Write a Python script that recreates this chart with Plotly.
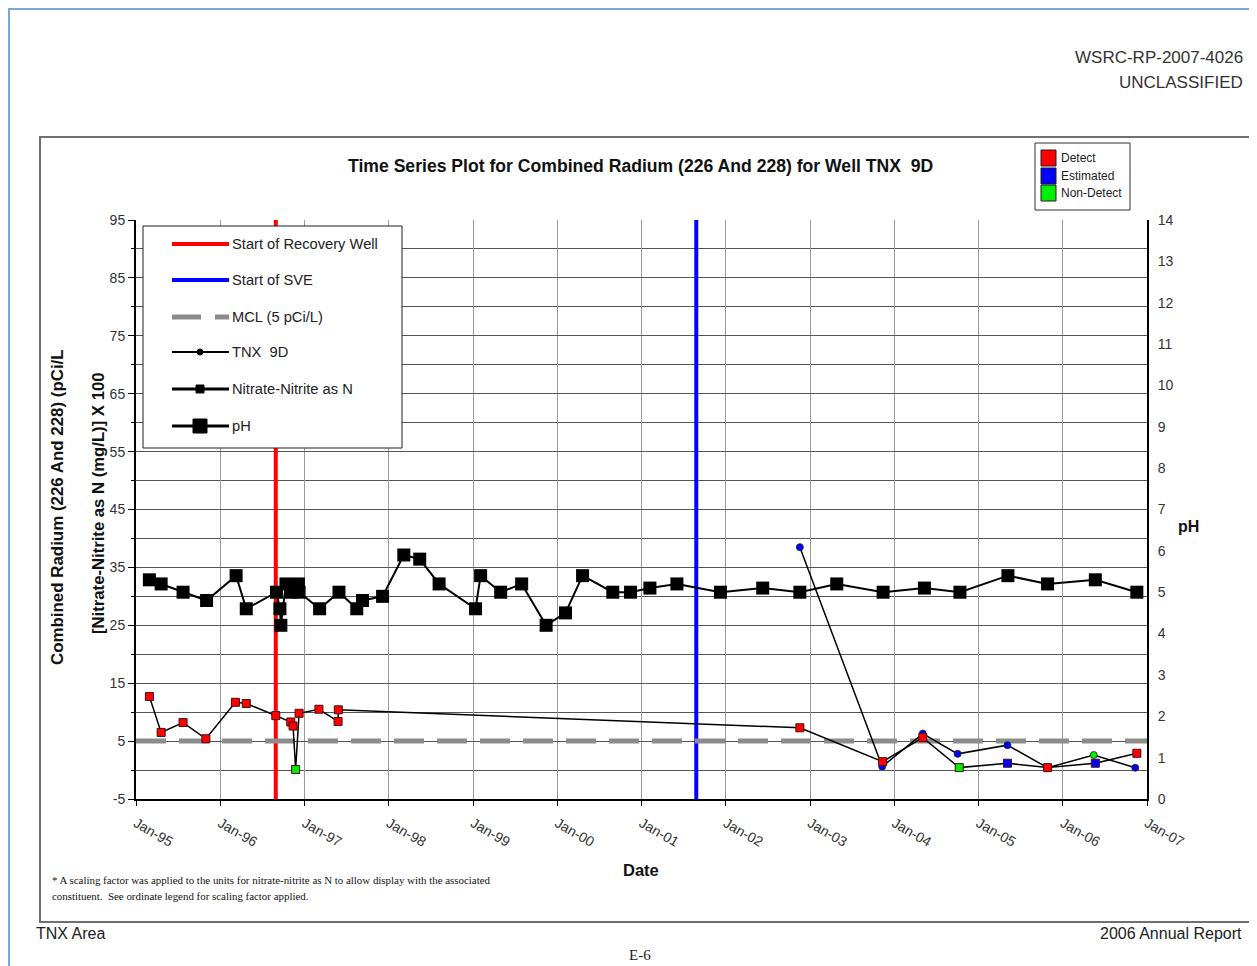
import plotly.graph_objects as go

# ---------------- data ----------------
ph_dates = ["1995-02-28", "1995-04-20", "1995-07-24", "1995-11-03", "1996-03-10", "1996-04-23",
            "1996-09-01", "1996-09-16", "1996-09-20", "1996-10-12", "1996-11-03", "1996-12-05",
            "1996-12-08", "1997-03-07", "1997-05-30", "1997-08-15", "1997-09-09", "1997-12-05",
            "1998-03-07", "1998-05-15", "1998-08-07", "1999-01-12", "1999-02-03", "1999-05-01",
            "1999-07-31", "1999-11-14", "2000-02-06", "2000-04-20", "2000-08-29", "2000-11-14",
            "2001-02-06", "2001-06-03", "2001-12-09", "2002-06-10", "2002-11-18", "2003-04-27",
            "2003-11-14", "2004-05-11", "2004-10-12", "2005-05-08", "2005-10-27", "2006-05-22",
            "2006-11-18"]
ph_values = [5.3, 5.2, 5.0, 4.8, 5.4, 4.6,
             5.0, 4.6, 4.2, 5.2, 5.0, 5.2,
             5.0, 4.6, 5.0, 4.6, 4.8, 4.9,
             5.9, 5.8, 5.2, 4.6, 5.4, 5.0,
             5.2, 4.2, 4.5, 5.4, 5.0, 5.0,
             5.1, 5.2, 5.0, 5.1, 5.0, 5.2,
             5.0, 5.1, 5.0, 5.4, 5.2, 5.3,
             5.0]

nitrate_dates = ["1995-02-28", "1995-04-20", "1995-07-24", "1995-10-31", "1996-03-07", "1996-04-23",
                 "1996-08-29", "1996-11-02", "1996-11-12", "1996-11-23", "1996-12-08", "1997-03-04",
                 "1997-05-26", "1997-05-27", "2002-11-18", "2003-11-12", "2004-05-04", "2004-10-09",
                 "2005-05-06", "2005-10-27", "2006-05-22", "2006-11-18"]
nitrate_x100 = [12.7, 6.5, 8.2, 5.4, 11.7, 11.5,
                9.4, 8.3, 7.6, 0.1, 9.8, 10.5,
                8.4, 10.4, 7.3, 1.45, 5.6, 0.42,
                1.18, 0.42, 1.18, 2.9]
nitrate_flag = ["D", "D", "D", "D", "D", "D",
                "D", "D", "D", "N", "D", "D",
                "D", "D", "D", "D", "D", "N",
                "E", "D", "E", "D"]

radium_dates = ["2002-11-18", "2003-11-10", "2004-05-04", "2004-10-02", "2005-05-06", "2005-10-27",
                "2006-05-15", "2006-11-11"]
radium_values = [38.5, 0.6, 6.3, 2.8, 4.3, 0.4, 2.6, 0.4]
radium_flag = ["E", "E", "E", "E", "E", "E", "N", "E"]

recovery_well_date = "1996-08-29"
sve_date = "2001-08-26"
mcl_value = 5
x_range = ["1995-01-01", "2007-01-01"]
y_range = [-5, 95]
ph_range = [0, 14]
left_tick_values = [-5, 5, 15, 25, 35, 45, 55, 65, 75, 85, 95]
left_tick_labels = ["-5", "5", "15", "25", "35", "45", "55", "65", "75", "85", "95"]

flag_colors = {"D": "#ff0000", "E": "#0000ff", "N": "#00ee00"}

FONT = "Liberation Sans, Arial, sans-serif"
SERIF = "Liberation Serif, Times New Roman, serif"

# page offset of the figure (browser body margin) and plot area in page pixels
OFF = 8
W, H = 1257 - OFF, 966 - OFF
X0, X1, Y0, Y1 = 136, 1147, 220, 799


def px(x):
    return (x - X0) / (X1 - X0)


def py(y):
    return (Y1 - y) / (Y1 - Y0)


fig = go.Figure()

# vertical event lines and MCL
fig.add_trace(go.Scatter(x=[recovery_well_date, recovery_well_date], y=y_range, mode="lines",
                         line=dict(color="#ff0000", width=4), showlegend=False, hoverinfo="skip"))
fig.add_trace(go.Scatter(x=[sve_date, sve_date], y=y_range, mode="lines",
                         line=dict(color="#0000ff", width=4), showlegend=False, hoverinfo="skip"))
fig.add_trace(go.Scatter(x=x_range, y=[mcl_value, mcl_value], mode="lines",
                         line=dict(color="#8c8c8c", width=5, dash="30px,13px"),
                         showlegend=False, hoverinfo="skip"))

# pH on right axis
fig.add_trace(go.Scatter(x=ph_dates, y=ph_values, mode="lines+markers", yaxis="y2",
                         line=dict(color="black", width=2),
                         marker=dict(symbol="square", size=13, color="black"),
                         showlegend=False, name="pH"))

# Radium (TNX 9D)
fig.add_trace(go.Scatter(x=radium_dates, y=radium_values, mode="lines+markers",
                         line=dict(color="black", width=1.5),
                         marker=dict(symbol="circle", size=7,
                                     color=[flag_colors[f] for f in radium_flag],
                                     line=dict(color="#202020", width=0.8)),
                         showlegend=False, name="TNX 9D"))

# Nitrate-Nitrite x100
fig.add_trace(go.Scatter(x=nitrate_dates, y=nitrate_x100, mode="lines+markers",
                         line=dict(color="black", width=1.5),
                         marker=dict(symbol="square", size=8,
                                     color=[flag_colors[f] for f in nitrate_flag],
                                     line=dict(color="#401010", width=1)),
                         showlegend=False, name="Nitrate-Nitrite as N"))

shapes = []
annotations = []

# page border (blue) and chart frame
shapes.append(dict(type="line", xref="paper", yref="paper", x0=px(8), x1=px(1262), y0=py(9), y1=py(9),
                   line=dict(color="#7fa7d6", width=2), layer="below"))
shapes.append(dict(type="line", xref="paper", yref="paper", x0=px(9), x1=px(9), y0=py(8), y1=py(970),
                   line=dict(color="#7fa7d6", width=2), layer="below"))
shapes.append(dict(type="rect", xref="paper", yref="paper", x0=px(40), x1=px(1262), y0=py(137), y1=py(922),
                   line=dict(color="#707070", width=2), layer="below"))

# main legend box
shapes.append(dict(type="rect", xref="paper", yref="paper", x0=px(143), x1=px(402), y0=py(226), y1=py(448),
                   line=dict(color="#202020", width=1), fillcolor="white", layer="above"))
leg_items = [
    ("Start of Recovery Well", 244, dict(color="#ff0000", width=4), None),
    ("Start of SVE", 280, dict(color="#0000ff", width=4), None),
    ("MCL (5 pCi/L)", 317, None, None),
    ("TNX  9D", 352, dict(color="black", width=2), "circle"),
    ("Nitrate-Nitrite as N", 389, dict(color="black", width=3), "small"),
    ("pH", 426, dict(color="black", width=3), "big"),
]
for label, yy, ln, mk in leg_items:
    if ln is not None:
        shapes.append(dict(type="line", xref="paper", yref="paper", x0=px(172), x1=px(229),
                           y0=py(yy), y1=py(yy), line=ln, layer="above"))
    else:
        for a, b in [(172, 201), (215, 229)]:
            shapes.append(dict(type="line", xref="paper", yref="paper", x0=px(a), x1=px(b),
                               y0=py(yy), y1=py(yy), line=dict(color="#8c8c8c", width=5), layer="above"))
    if mk == "circle":
        shapes.append(dict(type="circle", xref="paper", yref="paper", x0=px(197), x1=px(203),
                           y0=py(yy - 3), y1=py(yy + 3), line=dict(color="black", width=1),
                           fillcolor="black", layer="above"))
    elif mk == "small":
        shapes.append(dict(type="rect", xref="paper", yref="paper", x0=px(196), x1=px(204),
                           y0=py(yy - 4), y1=py(yy + 4), line=dict(color="black", width=1),
                           fillcolor="black", layer="above"))
    elif mk == "big":
        shapes.append(dict(type="rect", xref="paper", yref="paper", x0=px(193), x1=px(207),
                           y0=py(yy - 7), y1=py(yy + 7), line=dict(color="black", width=1),
                           fillcolor="black", layer="above"))
    annotations.append(dict(text=label.replace("  ", "\u00a0\u00a0"), xref="paper", yref="paper",
                            x=px(230), y=py(yy), xanchor="left", yanchor="middle", showarrow=False,
                            font=dict(family=FONT, size=14.7, color="#222")))

# flag legend box
shapes.append(dict(type="rect", xref="paper", yref="paper", x0=px(1035), x1=px(1130), y0=py(143), y1=py(210),
                   line=dict(color="#303030", width=1), fillcolor="white", layer="above"))
for (lab, col), yy in zip([("Detect", "#ff0000"), ("Estimated", "#0000ff"), ("Non-Detect", "#00ee00")],
                          [158, 176, 193]):
    shapes.append(dict(type="rect", xref="paper", yref="paper", x0=px(1041), x1=px(1056),
                       y0=py(yy - 8), y1=py(yy + 8), line=dict(color="#202020", width=1),
                       fillcolor=col, layer="above"))
    annotations.append(dict(text=lab, xref="paper", yref="paper", x=px(1059), y=py(yy), xanchor="left",
                            yanchor="middle", showarrow=False, font=dict(family=FONT, size=12, color="#222")))


def txt(text, x, y, size, xanchor="center", bold=False, family=FONT, angle=0, color="#111"):
    if bold:
        text = "<b>" + text + "</b>"
    annotations.append(dict(text=text, xref="paper", yref="paper", x=px(x), y=py(y), xanchor=xanchor,
                            yanchor="middle", showarrow=False, textangle=angle,
                            font=dict(family=family, size=size, color=color)))


txt("Time Series Plot for Combined Radium (226 And 228) for Well TNX\u00a0\u00a09D", 640, 166, 17.6, bold=True)
txt("Combined Radium (226 And 228) (pCi/L", 57, 507, 16.9, bold=True, angle=-90)
txt("[Nitrate-Nitrite as N (mg/L)] X 100", 98, 504, 16.7, bold=True, angle=-90)
txt("pH", 1188, 526, 16, bold=True)
txt("Date", 641, 870, 16.5, bold=True)
txt("* A scaling factor was applied to the units for nitrate-nitrite as N to allow display with the associated",
    50, 880, 10.9, xanchor="left", family=SERIF)
txt("constituent.\u00a0\u00a0See ordinate legend for scaling factor applied.", 50, 896, 10.9, xanchor="left",
    family=SERIF)
txt("TNX Area", 34, 933, 16, xanchor="left", color="#222")
txt("2006 Annual Report", 1244, 933, 16, xanchor="right", color="#222")
txt("E-6", 640, 955, 15, family=SERIF, color="#222")
txt("WSRC-RP-2007-4026", 1245, 58, 17, xanchor="right", color="#333")
txt("UNCLASSIFIED", 1245, 82, 17, xanchor="right", color="#333")

fig.update_layout(
    width=W, height=H,
    margin=dict(l=X0 - OFF, r=W - (X1 - OFF), t=Y0 - OFF, b=H - (Y1 - OFF), autoexpand=False),
    paper_bgcolor="white", plot_bgcolor="white",
    font=dict(family=FONT, size=14, color="#333"),
    shapes=shapes, annotations=annotations, showlegend=False,
    xaxis=dict(type="date", range=x_range, dtick="M12", tick0="1995-01-01", tickformat="%b-%y",
               tickangle=30, showgrid=True, gridcolor="#9a9a9a", gridwidth=1,
               showline=True, linecolor="black", linewidth=2, ticks="outside", ticklen=5,
               tickcolor="black", ticklabelstandoff=4,
               tickfont=dict(family=FONT, size=14, color="#333"), zeroline=False),
    yaxis=dict(range=y_range, tickmode="array", tickvals=left_tick_values, ticktext=left_tick_labels,
               showgrid=True, gridcolor="#555", gridwidth=1,
               minor=dict(dtick=5, tick0=-5, showgrid=True, gridcolor="#555", ticks="outside", ticklen=3,
                          tickcolor="black"),
               showline=True, linecolor="black", linewidth=2, ticks="outside", ticklen=6, tickcolor="black",
               zeroline=False, tickfont=dict(family=FONT, size=14, color="#333")),
    yaxis2=dict(range=ph_range, dtick=1, overlaying="y", side="right", showgrid=False, zeroline=False,
                showline=True, linecolor="black", linewidth=2, ticks="outside", ticklen=6,
                tickcolor="white", tickfont=dict(family=FONT, size=14, color="#333")),
)

fig.write_html("out.html")
